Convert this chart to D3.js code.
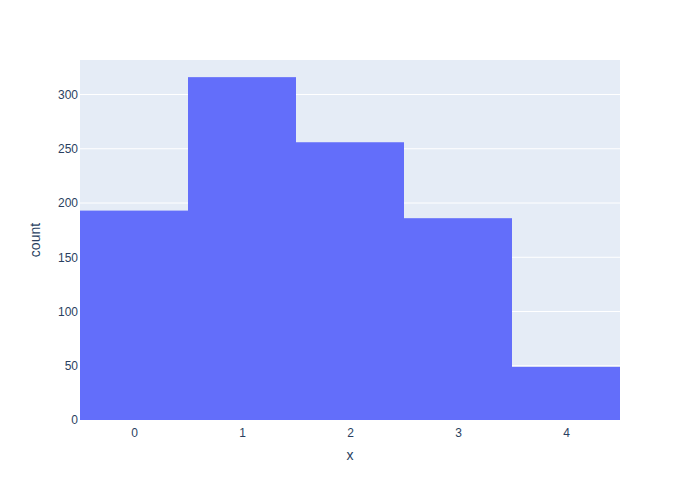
<!DOCTYPE html>
<html>
<head>
<meta charset="utf-8">
<script src="https://cdn.jsdelivr.net/npm/d3@7"></script>
<style>
  body { margin: 0; background: #fff; }
  text { font-family: "Liberation Sans", arial, sans-serif; }
</style>
</head>
<body>
<script>
// histogram data, one bar per integer bin
var bins = [0, 1, 2, 3, 4];
var counts = [193, 316, 256, 186, 49];
var yTicks = [0, 50, 100, 150, 200, 250, 300];

var margin = {top: 60, right: 80, bottom: 80, left: 80},
    width = 700 - margin.left - margin.right,
    height = 500 - margin.top - margin.bottom;

var svg = d3.select("body").append("svg")
  .attr("width", 700)
  .attr("height", 500);

var g = svg.append("g")
  .attr("transform", "translate(" + margin.left + "," + margin.top + ")");

var x = d3.scaleLinear().domain([-0.5, 4.5]).range([0, width]);
var y = d3.scaleLinear().domain([0, d3.max(counts) * 1.05]).range([height, 0]);

// plot background
g.append("rect")
  .attr("width", width)
  .attr("height", height)
  .attr("fill", "#e5ecf6");

// horizontal grid lines
g.selectAll(".grid")
  .data(yTicks.filter(function(d) { return d > 0; }))
  .enter().append("line")
  .attr("x1", 0)
  .attr("x2", width)
  .attr("y1", function(d) { return y(d); })
  .attr("y2", function(d) { return y(d); })
  .attr("stroke", "#fff")
  .attr("stroke-width", 1);

// bars
g.selectAll(".bar")
  .data(bins)
  .enter().append("rect")
  .attr("x", function(d) { return x(d - 0.5); })
  .attr("width", function(d) { return x(d + 0.5) - x(d - 0.5); })
  .attr("y", function(d, i) { return y(counts[i]); })
  .attr("height", function(d, i) { return height - y(counts[i]); })
  .attr("fill", "#636efa");

// axes
var xAxis = g.append("g")
  .attr("transform", "translate(0," + height + ")")
  .call(d3.axisBottom(x).tickValues(bins).tickFormat(d3.format("d")).tickSize(0).tickPadding(8));

var yAxis = g.append("g")
  .call(d3.axisLeft(y).tickValues(yTicks).tickFormat(d3.format("d")).tickSize(0).tickPadding(2));

[xAxis, yAxis].forEach(function(a) {
  a.select(".domain").remove();
  a.selectAll("text")
    .attr("fill", "#2a3f5f")
    .style("font-size", "12px")
    .style("font-family", "'Liberation Sans', arial, sans-serif");
});

// axis titles
svg.append("text")
  .attr("x", margin.left + width / 2)
  .attr("y", 460)
  .attr("text-anchor", "middle")
  .attr("fill", "#2a3f5f")
  .style("font-size", "14px")
  .text("x");

svg.append("text")
  .attr("transform", "translate(40," + (margin.top + height / 2) + ") rotate(-90)")
  .attr("text-anchor", "middle")
  .attr("fill", "#2a3f5f")
  .style("font-size", "14px")
  .text("count");
</script>
</body>
</html>
